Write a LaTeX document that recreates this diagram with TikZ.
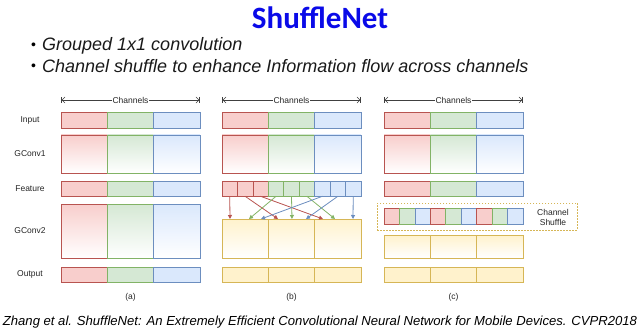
\documentclass[tikz,border=0pt]{standalone}
\usepackage{fontspec}
\setmainfont{Liberation Sans}
\newfontfamily\titlefont{Carlito}
\usepackage{xcolor}
\usetikzlibrary{arrows.meta,positioning,calc}

\definecolor{redfill}{HTML}{F8CECC}
\definecolor{redline}{HTML}{B85450}
\definecolor{greenfill}{HTML}{D5E8D4}
\definecolor{greenline}{HTML}{82B366}
\definecolor{bluefill}{HTML}{DAE8FC}
\definecolor{blueline}{HTML}{6C8EBF}
\definecolor{yellowfill}{HTML}{FFF2CC}
\definecolor{yellowline}{HTML}{D6B656}
\definecolor{titleblue}{HTML}{0A0AE8}

\begin{document}
\begin{tikzpicture}[
    x=1pt, y=-1pt,
    cell/.style={rectangle, draw=#1line, fill=#1fill, line width=0.6pt, inner sep=0pt, minimum width=46.33pt},
    gcell/.style={rectangle, draw=#1line, top color=#1fill, bottom color=white, line width=0.6pt, inner sep=0pt, minimum width=46.33pt},
    subcell/.style={rectangle, draw=#1line, fill=#1fill, line width=0.6pt, inner sep=0pt, minimum width=15.44pt},
    lbl/.style={font=\fontsize{8.5}{10}\selectfont, inner sep=1pt, text=black!85},
    chan/.style={{Bar[width=6pt]Straight Barb[length=3pt,width=6pt]}-{Straight Barb[length=3pt,width=6pt]Bar[width=6pt]}, line width=0.6pt, draw=black!75},
    shuf/.style={-{Triangle[length=4pt,width=4pt]}, line width=0.8pt, draw=#1line},
    shufbox/.style={rectangle, draw=yellowline, dash pattern=on 1.5pt off 1.5pt, line width=0.6pt, minimum width=200pt, minimum height=27pt},
    bullettext/.style={anchor=west, inner sep=0pt, font=\itshape\fontsize{18}{22}\selectfont, text=black!90},
    bulletdot/.style={anchor=base, inner sep=0pt, font=\fontsize{14}{16}\selectfont}
]
\useasboundingbox (0,0) rectangle (640,334);

% Title and bullets
\node[font=\titlefont\bfseries\fontsize{31}{36}\selectfont, text=titleblue] (title) at (320,18) {ShuffleNet};
\node[bullettext] (item1) at (42,46) {Grouped 1x1 convolution};
\node[bulletdot] (bul1) at ($(item1.base west)+(-8.5,0)$) {\raisebox{1.5pt}{\textbullet}};
\node[bullettext] (item2) at (42,66) {Channel shuffle to enhance Information flow across channels};
\node[bulletdot] (bul2) at ($(item2.base west)+(-8.5,0)$) {\raisebox{1.5pt}{\textbullet}};

% Row labels
\node[lbl] (linput) at (30,120) {Input};
\node[lbl] (lgconv1) at (30,154) {GConv1};
\node[lbl] (lfeature) at (30,188.5) {Feature};
\node[lbl] (lgconv2) at (30,231) {GConv2};
\node[lbl] (loutput) at (30,274.5) {Output};

% Common rows of (a), (b), (c)
\foreach \col/\x in {a/61,b/222,c/384} {
    \coordinate (chl\col) at (\x,100);
    \coordinate (chr\col) at (\x+139,100);
    \draw[chan] (chl\col) -- (chr\col);
    \node[lbl, fill=white] (ch\col) at (\x+69.5,100) {Channels};
    \foreach \c [count=\i from 0] in {red,green,blue} {
        \node[cell=\c, minimum height=16pt] (in\col\i) at (\x+23.17+46.33*\i,120) {};
        \node[gcell=\c, minimum height=38pt] (gcone\col\i) at (\x+23.17+46.33*\i,154) {};
    }
    \node[lbl] (cap\col) at (\x+69.5,297) {(\col)};
}

% (a) group convolutions only
\foreach \c [count=\i from 0] in {red,green,blue} {
    \node[cell=\c, minimum height=15pt] (fta\i) at (84.17+46.33*\i,188.5) {};
    \node[gcell=\c, minimum height=54pt] (gctwoa\i) at (84.17+46.33*\i,231) {};
    \node[cell=\c, minimum height=15pt] (outa\i) at (84.17+46.33*\i,274.5) {};
}

% (b) shuffled connections
\foreach \c [count=\j from 0] in {red,red,red,green,green,green,blue,blue,blue}
    \node[subcell=\c, minimum height=15pt] (ftb\j) at (229.72+15.44*\j,188.5) {};
\foreach \i in {0,1,2} {
    \node[gcell=yellow, minimum height=39pt] (gctwob\i) at (245.17+46.33*\i,238.5) {};
    \node[cell=yellow, minimum height=15pt] (outb\i) at (245.17+46.33*\i,274.5) {};
}
\foreach \c/\j/\tx in {red/0/230, red/1/278, red/2/323, green/3/249, green/4/292, green/5/335, blue/6/261, blue/7/306, blue/8/353} {
    \coordinate (tb\j) at (\tx,219);
    \draw[shuf=\c] (ftb\j.south) -- (tb\j);
}

% (c) channel shuffle
\foreach \c [count=\i from 0] in {red,green,blue}
    \node[cell=\c, minimum height=15pt] (ftc\i) at (407.17+46.33*\i,188.5) {};
\node[shufbox] (shbox) at (477,216.5) {};
\foreach \c [count=\j from 0] in {red,green,blue,red,green,blue,red,green,blue}
    \node[subcell=\c, minimum height=16pt] (shc\j) at (391.72+15.44*\j,216) {};
\node[lbl, align=center] (shtext) at (553,217) {Channel\\Shuffle};
\foreach \i in {0,1,2} {
    \node[gcell=yellow, minimum height=23pt] (gctwoc\i) at (407.17+46.33*\i,246.5) {};
    \node[cell=yellow, minimum height=15pt] (outc\i) at (407.17+46.33*\i,274.5) {};
}

% Reference
\node[font=\itshape\fontsize{13.1}{15}\selectfont] (cite) at (320,322) {Zhang et al. ShuffleNet: An Extremely Efficient Convolutional Neural Network for Mobile Devices. CVPR2018};

\end{tikzpicture}
\end{document}
